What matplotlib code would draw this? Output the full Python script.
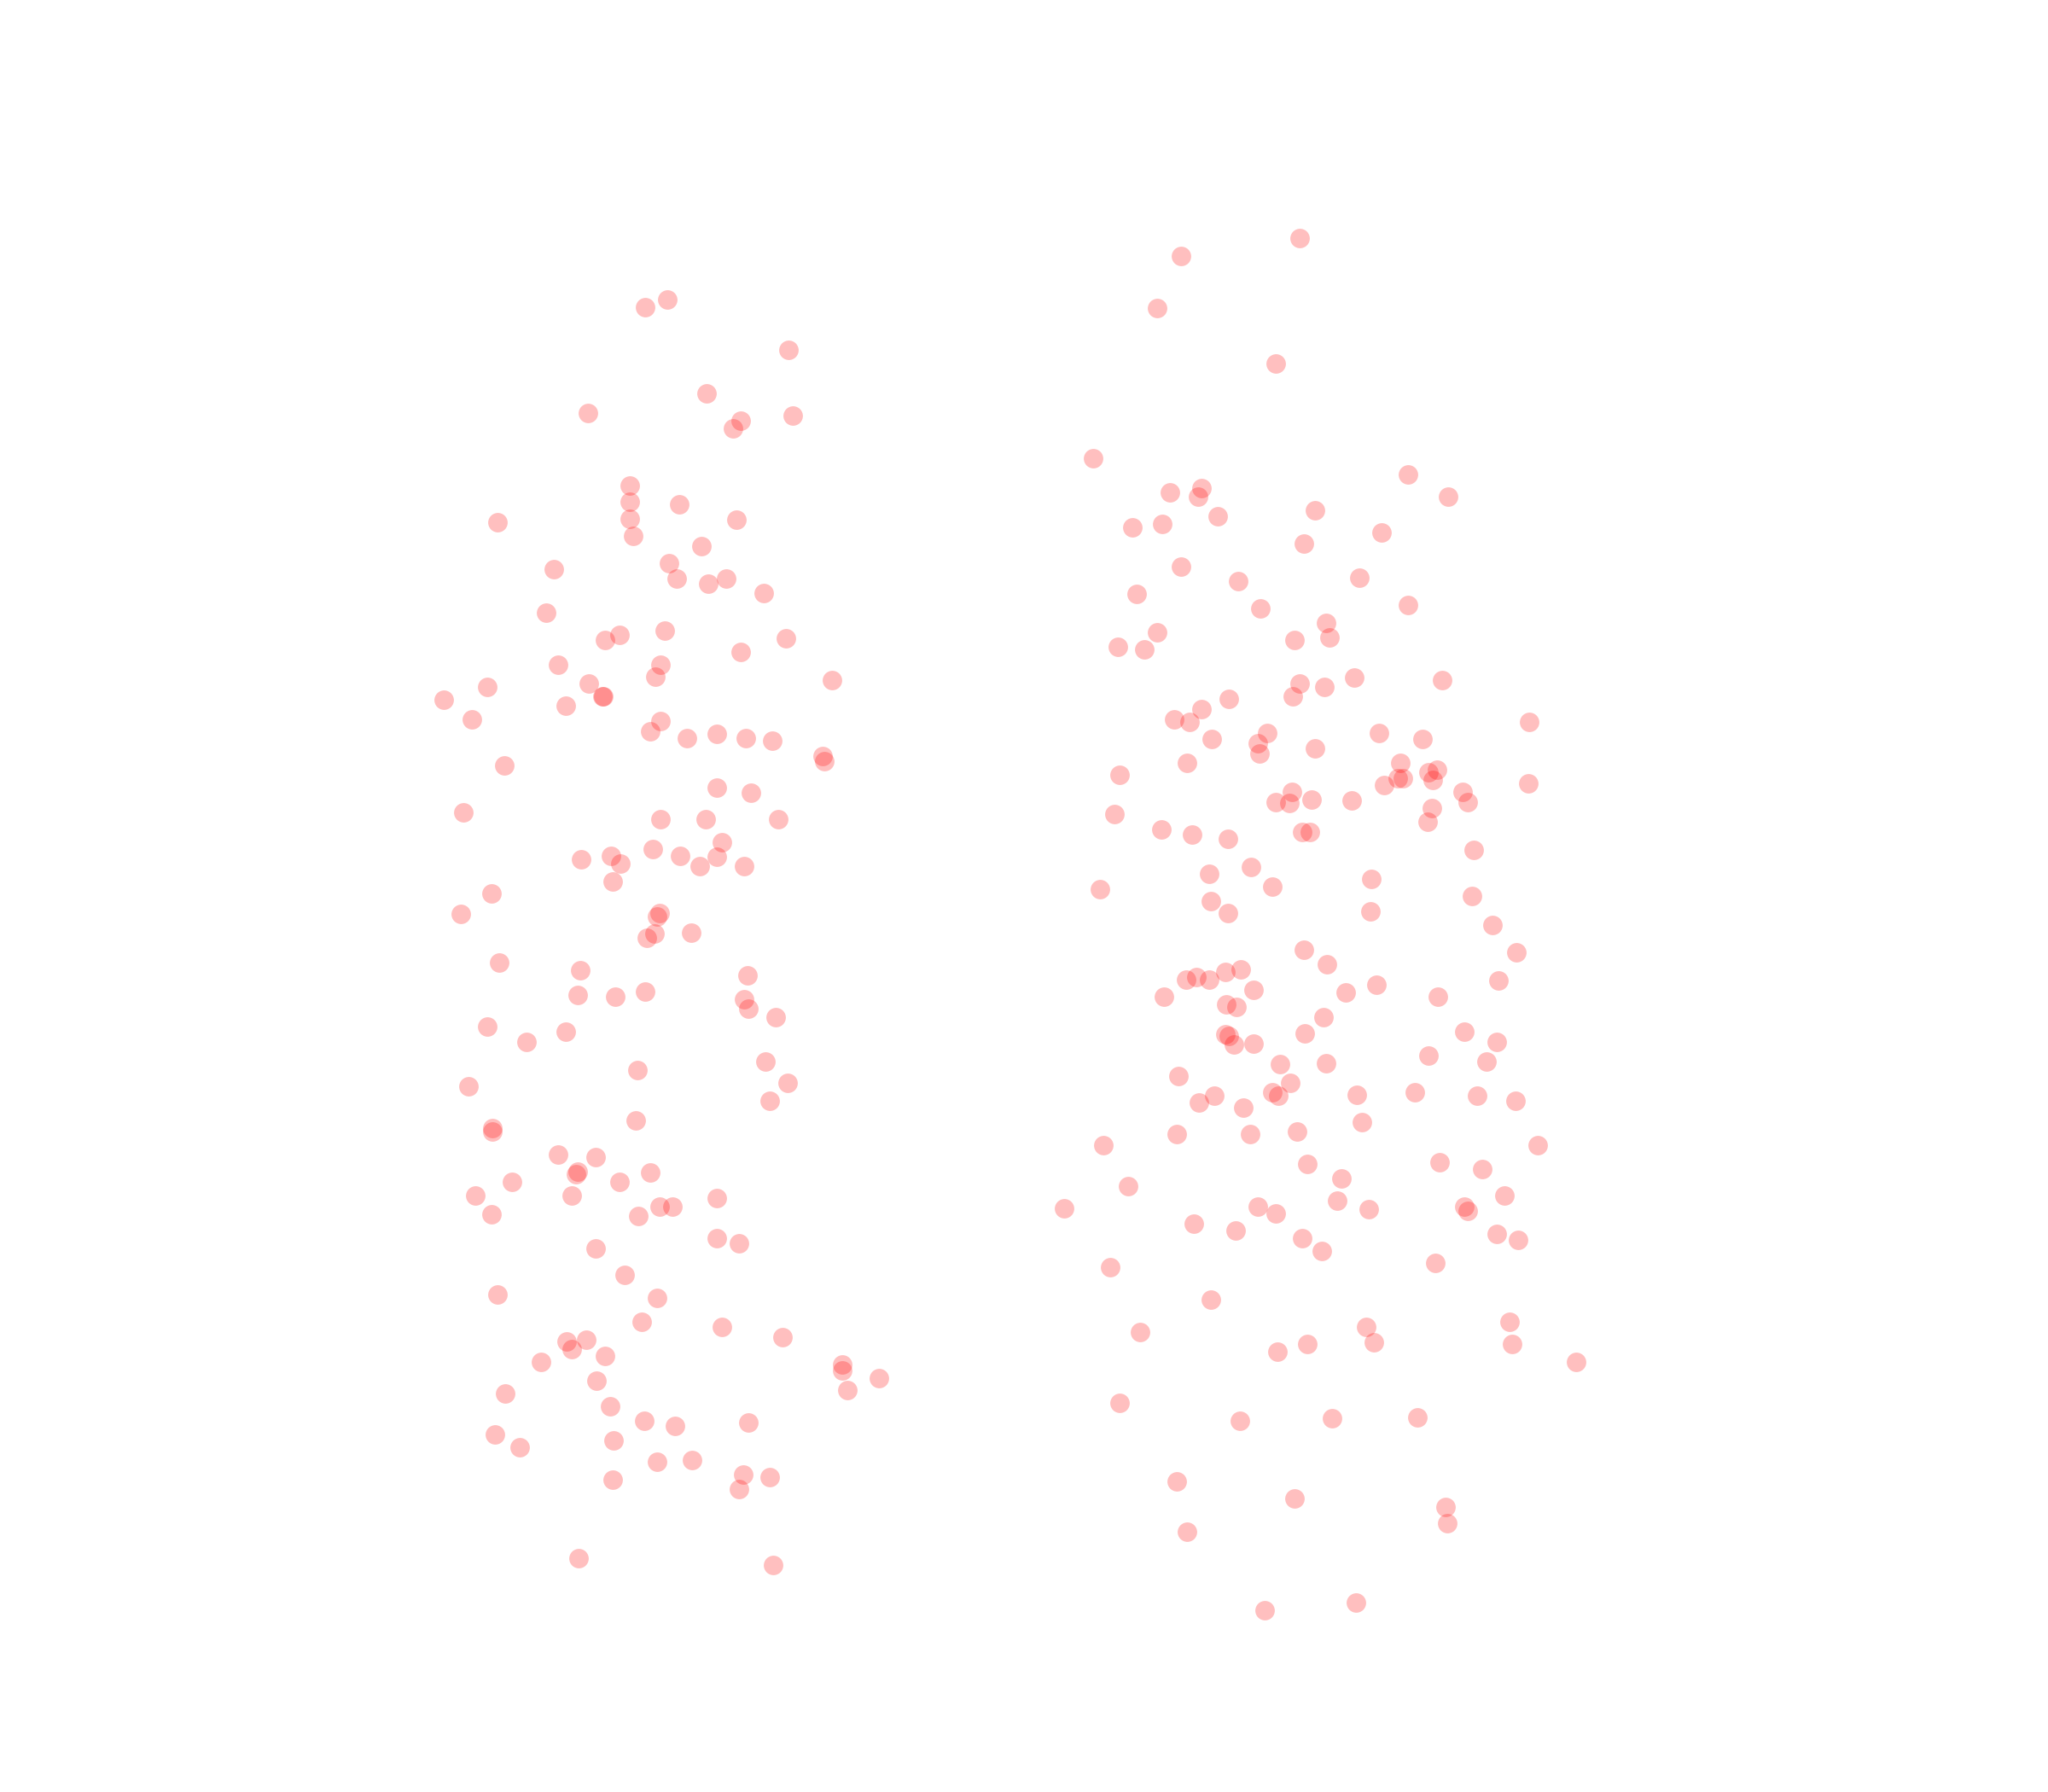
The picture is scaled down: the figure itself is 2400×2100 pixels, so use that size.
import numpy as np
import matplotlib.pyplot as plt

# point positions (x: jittered position, y: value, both in plot units)
left_x = [494, 511, 604, 541, 450, 567, 561, 607, 482, 482, 520, 482, 485, 564, 381, 537, 512, 424,
          518, 542, 556, 585, 418, 509, 474, 463, 602, 567, 427, 506, 502, 451, 373, 637, 340, 461,
          462, 433, 361, 506, 498, 549, 526, 571, 591, 630, 631, 386, 549, 575, 355, 506, 540, 596,
          553, 500, 468, 445, 475, 521, 549, 536, 570, 469, 376, 353, 505, 503, 501, 495, 529, 382,
          444, 572, 442, 471, 494, 570, 573, 594, 373, 433, 403, 586, 488, 603, 359, 589, 487, 377,
          377, 427, 456, 442, 441, 498, 474, 392, 364, 438, 549, 505, 515, 376, 489, 549, 566, 456,
          478, 381, 503, 491, 553, 599, 434, 449, 438, 463, 645, 645, 673, 414, 457, 649, 387, 467,
          493, 517, 573, 379, 470, 398, 503, 530, 569, 589, 469, 566, 443, 592]
left_y = [235, 229, 268, 301, 316, 322, 328, 318, 372, 384, 386, 397, 410, 398, 400, 418, 431, 436,
          443, 447, 443, 454, 469, 483, 486, 490, 489, 499, 509, 509, 518, 523, 526, 521, 536, 533,
          533, 540, 551, 552, 560, 562, 565, 565, 567, 579, 583, 586, 603, 607, 622, 627, 627, 627,
          645, 650, 655, 658, 661, 655, 656, 663, 663, 675, 684, 700, 699, 702, 715, 718, 714, 737,
          743, 747, 762, 763, 759, 765, 772, 779, 786, 790, 798, 813, 819, 829, 832, 843, 858, 864,
          866, 884, 886, 897, 899, 898, 905, 905, 915, 915, 917, 924, 924, 930, 931, 948, 952, 956,
          976, 991, 994, 1012, 1016, 1024, 1027, 1026, 1033, 1038, 1045, 1049, 1055, 1043, 1057, 1064, 1067, 1077,
          1088, 1092, 1089, 1098, 1103, 1108, 1119, 1118, 1129, 1131, 1133, 1140, 1193, 1198]

right_x = [995, 904, 886, 977, 837, 1078, 896, 917, 920, 1109, 1007, 932, 867, 890, 998, 1058, 904, 948,
           1041, 870, 965, 1078, 1015, 1018, 886, 991, 856, 876, 1037, 995, 1104, 1014, 990, 941, 920, 899,
           911, 1171, 1056, 970, 928, 1089, 963, 964, 1007, 1072, 909, 1100, 1094, 1070, 1074, 1097, 857, 1170,
           1060, 989, 1004, 977, 987, 1035, 1120, 1124, 1096, 853, 1093, 889, 913, 940, 997, 1003, 1128, 926,
           958, 974, 1050, 842, 927, 940, 1049, 1127, 1143, 998, 1161, 1016, 950, 938, 926, 908, 916, 960,
           1030, 1054, 1147, 891, 1101, 939, 947, 1013, 938, 941, 945, 960, 999, 1121, 1146, 1094, 980, 1015,
           1138, 902, 988, 974, 979, 930, 918, 952, 1039, 1083, 1131, 1160, 1043, 993, 957, 901, 845, 1177,
           1001, 1102, 1135, 1027, 864, 1152, 1024, 963, 977, 1048, 1121, 1124, 815, 914, 946, 997, 1146, 1162,
           1012, 850, 1099, 927, 1156, 873, 1046, 1052, 1158, 1001, 978, 1207, 857, 949, 1020, 1085, 901, 991,
           1107, 1108, 909, 968, 1038]
right_y = [182, 196, 236, 278, 351, 363, 377, 380, 374, 380, 391, 395, 404, 401, 416, 408, 434, 445,
           442, 455, 466, 463, 477, 488, 484, 490, 495, 497, 519, 523, 521, 526, 533, 535, 543, 551,
           553, 553, 561, 561, 566, 566, 569, 577, 573, 584, 584, 589, 591, 596, 596, 597, 593, 600,
           601, 606, 612, 614, 615, 613, 606, 614, 619, 623, 629, 635, 639, 642, 637, 637, 651, 669,
           664, 679, 673, 681, 690, 699, 698, 686, 708, 727, 729, 738, 742, 744, 750, 750, 748, 758,
           760, 754, 751, 763, 763, 769, 771, 779, 792, 793, 800, 799, 791, 790, 798, 808, 815, 814,
           813, 824, 829, 836, 839, 839, 844, 848, 838, 836, 839, 843, 859, 866, 868, 868, 877, 877,
           891, 890, 895, 902, 908, 915, 919, 924, 929, 926, 924, 927, 925, 937, 942, 948, 945, 949,
           958, 970, 967, 995, 1012, 1020, 1016, 1028, 1029, 1029, 1035, 1043, 1074, 1088, 1086, 1085, 1134, 1147,
           1154, 1166, 1173, 1233, 1227]

fig = plt.figure(figsize=(8, 7), dpi=300)
ax = fig.add_axes([0, 0, 1, 1])
ax.scatter(left_x, left_y, s=30, color='red', alpha=0.25, linewidths=0)
ax.scatter(right_x, right_y, s=30, color='red', alpha=0.25, linewidths=0)
ax.set_xlim(0, 1568)
ax.set_ylim(1372, 0)
ax.axis('off')
fig.savefig('out.png', dpi=300, facecolor='white')
